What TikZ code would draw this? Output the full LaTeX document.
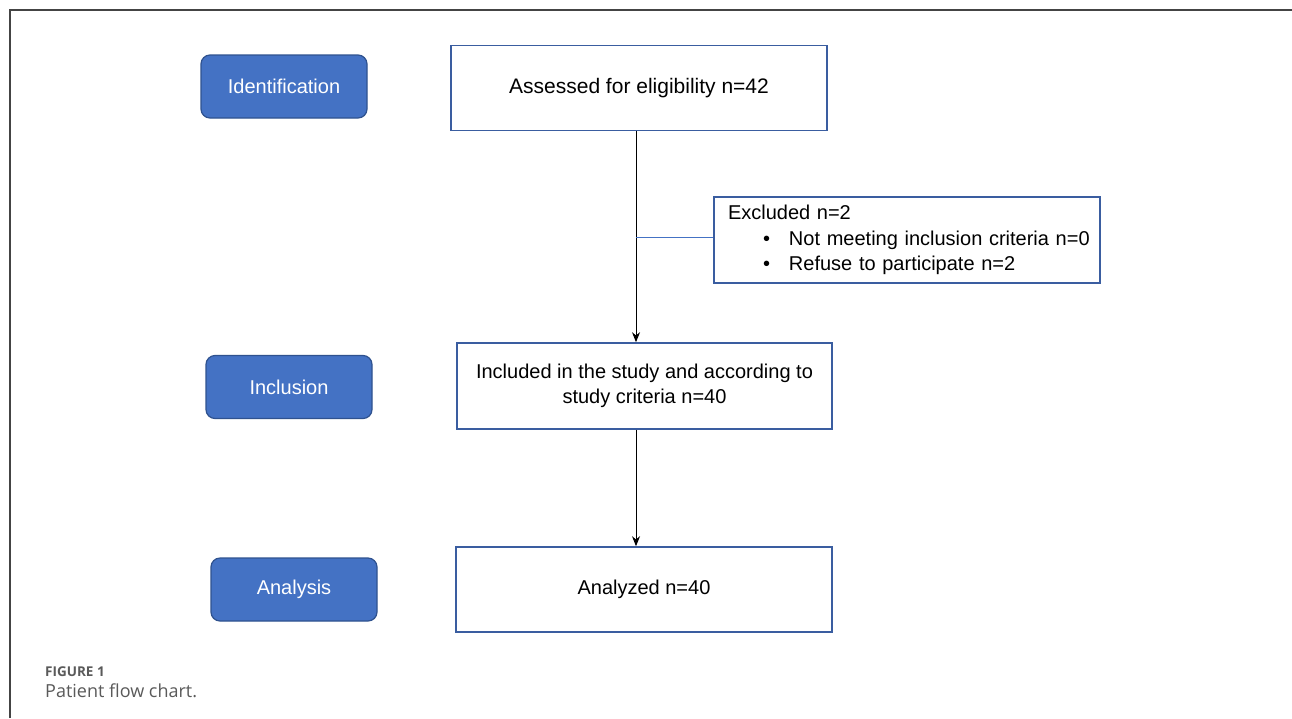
\documentclass[tikz,border=0pt]{standalone}
\usepackage{fontspec}
\setmainfont{Liberation Sans}
\newfontfamily\capfont{Open Sans}
\usetikzlibrary{arrows.meta}
\definecolor{bluefill}{HTML}{4472C4}
\definecolor{blueedge}{HTML}{2F528F}
\definecolor{boxedge}{HTML}{3A5DA0}
\definecolor{framegrey}{HTML}{444444}
\definecolor{capgrey}{HTML}{5A5A5A}
\tikzset{
  stage/.style={draw=blueedge, line width=1.2pt, fill=bluefill, rounded corners=9pt,
    minimum width=166pt, minimum height=63pt, inner sep=0pt, text=white,
    font=\fontsize{20}{24}\selectfont},
  flowbox/.style={draw=boxedge, line width=1.6pt, fill=white, inner sep=0pt,
    minimum width=376pt, minimum height=85pt, align=center,
    font=\fontsize{20}{25}\selectfont},
  flowarrow/.style={-{Stealth[length=10pt,width=8pt]}, line width=1pt, black},
  sideline/.style={draw=bluefill, line width=0.8pt},
}
\begin{document}
\begin{tikzpicture}[x=1pt,y=-1pt]
\useasboundingbox (0,0) rectangle (1292,718);
\fill[white] (0,0) rectangle (1292,718);
\coordinate (fc) at (10,10);
\draw[framegrey, line width=1.5pt] (10,718) -- (fc) -- (1292,10);

\node[stage] (ident) at (284,86.5) {Identification};
\node[stage] (incl) at (289,387) {Inclusion};
\node[stage] (anal) at (294,589.5) {Analysis};

\node[flowbox, font=\fontsize{21}{25}\selectfont] (assessed) at (639,88) {Assessed for eligibility n=42};
\node[flowbox, minimum width=386pt, minimum height=86pt, text width=358pt, align=left, font=\fontsize{20}{25.5}\selectfont] (excluded) at (907,240)
  {Excluded n=2\\\mbox{\hspace*{35pt}\makebox[26pt][l]{\textbullet}Not meeting inclusion criteria n=0}\\\mbox{\hspace*{35pt}\makebox[26pt][l]{\textbullet}Refuse to participate n=2}};
\node[flowbox, minimum width=375pt, minimum height=86pt] (included) at (644.5,386)
  {Included in the study and according to\\study criteria n=40};
\node[flowbox] (analyzed) at (644,589.5) {Analyzed n=40};

\coordinate (ax) at (636,0);
\coordinate (split) at (636,237);
\draw[flowarrow] (assessed.south -| ax) -- (included.north -| ax);
\draw[flowarrow] (included.south -| ax) -- (analyzed.north -| ax);
\draw[sideline] (split) -- (split -| excluded.west);

\node[anchor=base west, inner sep=0pt, text=capgrey, font=\capfont\fontsize{13.5}{16}\selectfont\bfseries] (figlabel) at (45,676) {FIGURE 1};
\node[anchor=base west, inner sep=0pt, text=capgrey, font=\capfont\fontsize{18}{22}\selectfont] (figcap) at (45,697) {Patient flow chart.};
\end{tikzpicture}
\end{document}
